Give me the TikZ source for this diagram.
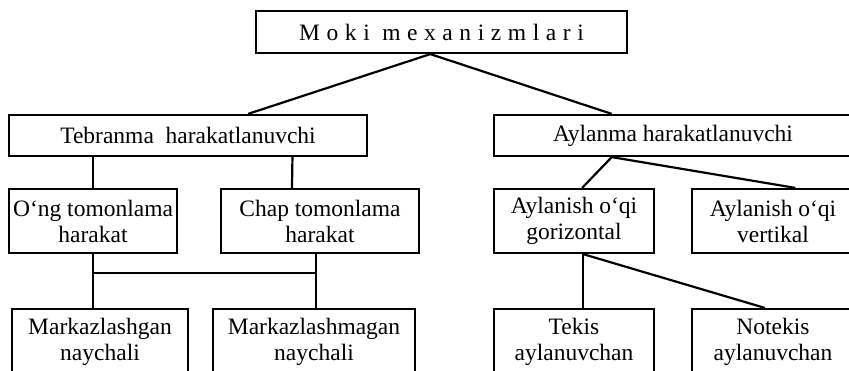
\documentclass[tikz,border=0pt]{standalone}
\usepackage{fontspec}
\setmainfont{Liberation Serif}
\newfontfamily\espace[LetterSpace=28]{Liberation Serif}
\usetikzlibrary{calc}

\tikzset{
	boite/.style={draw,line width=2.2pt,inner sep=0pt,align=center,
		font=\fontsize{23.5}{26}\selectfont},
	trait/.style={line width=2.2pt}
}

\begin{document}
\begin{tikzpicture}[x=1pt,y=-1pt]
		% cadre de l'image (les boites de droite et du bas sont coupees)
		\useasboundingbox (0,0) rectangle (849,371);
		\clip (0,0) rectangle (849,371);
		% niveau 1
		\node[boite,minimum width=371pt,minimum height=42pt] (moki) at (441.5,32) {\espace Moki mexanizmlari};
		% niveau 2
		\node[boite,minimum width=358pt,minimum height=41pt] (tebr) at (188,135.5) {Tebranma\ \ harakatlanuvchi};
		\node[boite,minimum width=358pt,minimum height=41pt] (ayl) at (673,135.5) {Aylanma harakatlanuvchi};
		% niveau 3
		\node[boite,minimum width=168pt,minimum height=64pt] (ong) at (93,221) {O‘ng tomonlama\\harakat};
		\node[boite,minimum width=198pt,minimum height=64pt] (chap) at (320,221) {Chap tomonlama\\harakat};
		\node[boite,minimum width=160pt,minimum height=64pt] (gor) at (574,221) {Aylanish o‘qi\\gorizontal};
		\node[boite,minimum width=162pt,minimum height=64pt] (vert) at (773,221) {Aylanish o‘qi\\vertikal};
		% niveau 4
		\node[boite,minimum width=176pt,minimum height=66pt] (mark) at (100,342) {Markazlashgan\\naychali};
		\node[boite,minimum width=202pt,minimum height=66pt] (markm) at (314,342) {Markazlashmagan\\naychali};
		\node[boite,minimum width=160pt,minimum height=66pt] (tekis) at (574,342) {Tekis\\aylanuvchan};
		\node[boite,minimum width=162pt,minimum height=66pt] (notekis) at (773,342) {Notekis\\aylanuvchan};
		% liaisons depuis la boite du haut
		\draw[trait] ($(moki.south west)!.47!(moki.south east)$) -- ($(tebr.north west)!.667!(tebr.north east)$);
		\draw[trait] ($(moki.south west)!.47!(moki.south east)$) -- ($(ayl.north west)!.33!(ayl.north east)$);
		% branche gauche
		\draw[trait] (tebr.south -| ong.north) -- (ong.north);
		\draw[trait] ($(tebr.south west)!.79!(tebr.south east)$) -- ($(chap.north west)!.36!(chap.north east)$);
		\coordinate (busG) at (93,273);
		\coordinate (busD) at (316,273);
		\draw[trait] (ong.south -| busG) -- (busG) -- (mark.north -| busG);
		\draw[trait] (chap.south -| busD) -- (busD) -- (markm.north -| busD);
		\draw[trait] (busG) -- (busD);
		% branche droite
		\draw[trait] ($(ayl.south west)!.33!(ayl.south east)$) -- ($(gor.north west)!.55!(gor.north east)$);
		\draw[trait] ($(ayl.south west)!.33!(ayl.south east)$) -- ($(vert.north west)!.636!(vert.north east)$);
		\draw[trait] ($(gor.south west)!.556!(gor.south east)$) -- ($(tekis.north west)!.556!(tekis.north east)$);
		\draw[trait] ($(gor.south west)!.556!(gor.south east)$) -- ($(notekis.north west)!.45!(notekis.north east)$);
	\end{tikzpicture}
\end{document}
